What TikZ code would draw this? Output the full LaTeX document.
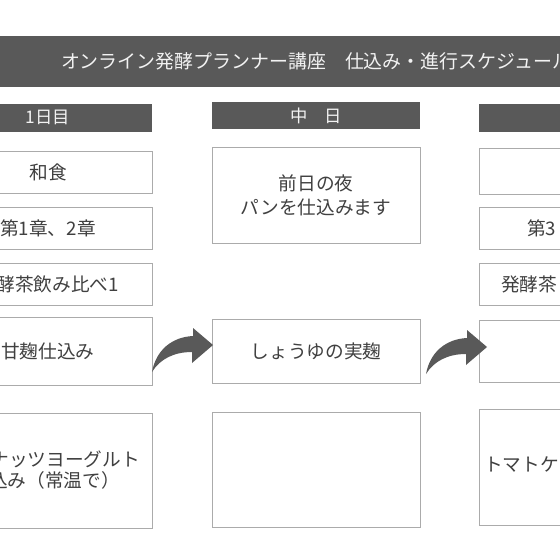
\documentclass[tikz,border=0pt]{standalone}
\usepackage{fontspec}
\setmainfont{Noto Sans CJK JP}
\definecolor{bargray}{HTML}{595959}
\definecolor{boxline}{HTML}{ABABAB}
\definecolor{txtgray}{HTML}{404040}
\definecolor{headtxt}{HTML}{F2F2F2}
\newcommand{\bendarrow}[1]{\fill[arrowfill, shift={#1}] (0,0) .. controls (4,-22) and (20,-35) .. (41,-36) -- (41,-44) -- (61,-27) -- (40,-9) -- (40,-20) .. controls (22,-20) and (8,-13) .. (0,0) -- cycle;}
\begin{document}
\begin{tikzpicture}[x=0.75pt, y=-0.75pt,
  box/.style={draw=boxline, line width=0.75pt, fill=white, minimum width=156pt, inner sep=0pt, text=txtgray, font=\fontsize{14}{18}\selectfont, align=center},
  header/.style={fill=bargray, minimum width=156pt, minimum height=21pt, inner sep=0pt, text=headtxt, font=\fontsize{13}{16}\selectfont},
  boxtext/.style={inner sep=0pt, text=txtgray, font=\fontsize{14}{18}\selectfont},
  arrowfill/.style={fill=bargray}]
\useasboundingbox (0,0) rectangle (560,560);
\clip (0,0) rectangle (560,560);
\node[fill=bargray, minimum width=525pt, minimum height=38.25pt, text=headtxt, font=\fontsize{14.2}{18}\selectfont] (title) at (316,61.5){オンライン発酵プランナー講座　仕込み・進行スケジュール};
\node[header] (hd1) at (48,117.5){1日目};
\node[header, minimum height=20.25pt] (hd2) at (316,115.5){中　日};
\node[header] (hd3) at (583,118){};
\node[header, anchor=west, fill=none] (hd3txt) at (553,118){2};
\node[box, minimum height=31.5pt] (b1) at (48,172){和食};
\node[box, minimum height=31.5pt] (b2) at (48,228){第1章、2章};
\node[box, minimum height=31.5pt] (b3) at (48,284){};
\node[boxtext, anchor=east] (b3txt) at (119,284){酵茶飲み比べ1};
\node[box, minimum height=51pt] (b4) at (48,351){甘麹仕込み};
\node[box, minimum height=86.25pt] (b5) at (48,470.5){};
\node[boxtext, anchor=east] (b5txta) at (140,459){ナッツヨーグルト};
\node[boxtext, anchor=east] (b5txtb) at (120,480){込み（常温で）};
\node[box, minimum height=72pt] (m1) at (316,195){前日の夜\\パンを仕込みます};
\node[box, minimum height=48pt] (m2) at (316,351){しょうゆの実麹};
\node[box, minimum height=86.25pt] (m3) at (316,469.5){};
\node[box, minimum height=34.5pt] (r1) at (583,171){};
\node[box, minimum height=31pt] (r2) at (583,228.5){};
\node[boxtext, anchor=west] (r2txt) at (527,228.5){第3};
\node[box, minimum height=31.5pt] (r3) at (583,284){};
\node[boxtext, anchor=west] (r3txt) at (501,284){発酵茶};
\node[box, minimum height=46.5pt] (r4) at (583,351){};
\node[box, minimum height=87pt] (r5) at (583,467){};
\node[boxtext, anchor=west] (r5txt) at (484,465){トマトケ};
\bendarrow{(152,372)}
\bendarrow{(426,374)}
\end{tikzpicture}
\end{document}
